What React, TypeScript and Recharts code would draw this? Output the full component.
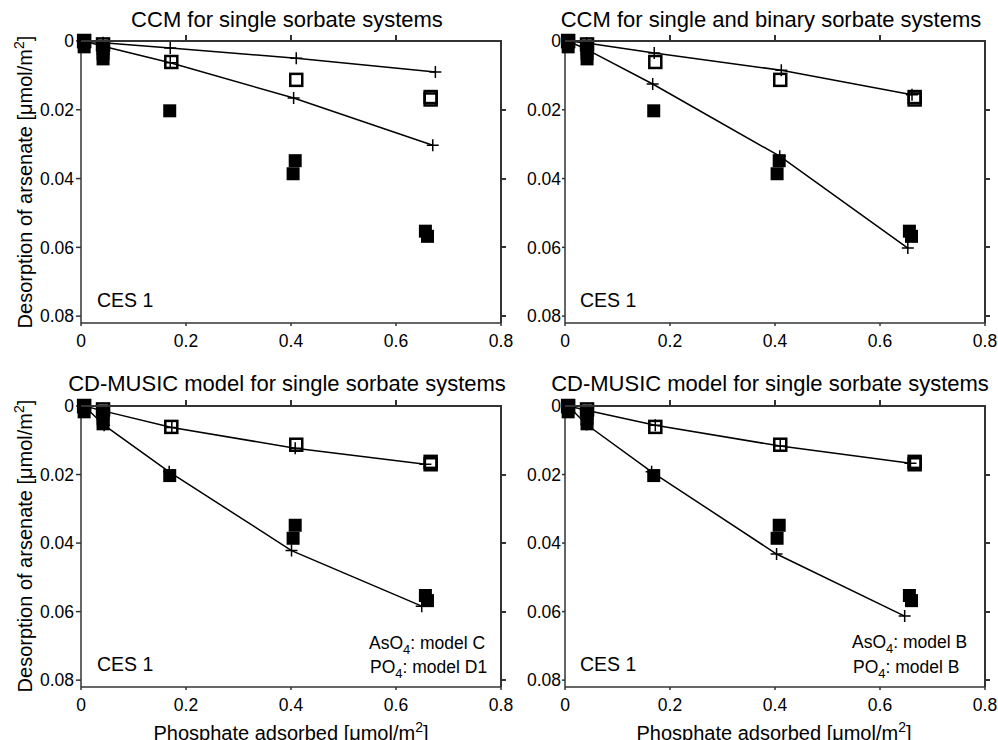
import { ComposedChart, Scatter, XAxis, YAxis } from "recharts";

// measured points (same in all four panels)
const openX = [0.006, 0.042, 0.172, 0.41, 0.666, 0.666];
const openY = [0.0, 0.001, 0.0061, 0.0113, 0.0163, 0.017];
const filledX = [0.006, 0.006, 0.042, 0.042, 0.042, 0.169, 0.408, 0.404, 0.656, 0.66];
const filledY = [0.0003, 0.0017, 0.0022, 0.0037, 0.0052, 0.0203, 0.0348, 0.0386, 0.0553, 0.0568];

// model curves: a = upper curve, b = lower curve
const ccmSingleAX = [0.006, 0.042, 0.17, 0.41, 0.675];
const ccmSingleAY = [0, 0.0005, 0.002, 0.005, 0.009];
const ccmSingleBX = [0.006, 0.042, 0.17, 0.405, 0.67];
const ccmSingleBY = [0, 0.0015, 0.0063, 0.0166, 0.0303];

const ccmBinaryAX = [0.006, 0.041, 0.17, 0.412, 0.661];
const ccmBinaryAY = [0, 0.0006, 0.0035, 0.0085, 0.0156];
const ccmBinaryBX = [0.006, 0.042, 0.167, 0.409, 0.653];
const ccmBinaryBY = [0, 0.0025, 0.0125, 0.0335, 0.0602];

const musicCAX = [0.006, 0.044, 0.173, 0.408, 0.656];
const musicCAY = [0, 0.0015, 0.0063, 0.0123, 0.017];
const musicCBX = [0.006, 0.044, 0.168, 0.401, 0.649];
const musicCBY = [0, 0.0056, 0.0192, 0.0422, 0.0584];

const musicBAX = [0.006, 0.043, 0.172, 0.41, 0.658];
const musicBAY = [0, 0.0013, 0.0056, 0.0117, 0.0167];
const musicBBX = [0.006, 0.041, 0.165, 0.403, 0.647];
const musicBBY = [0, 0.0054, 0.0192, 0.0432, 0.0613];

const xTicks = [0, 0.2, 0.4, 0.6, 0.8];
const yTicks = [0, 0.02, 0.04, 0.06, 0.08];
const X_MAX = 0.8;
const Y_MAX = 0.082;

const zip = (xs: number[], ys: number[]) => xs.map((x, i) => ({ x, y: ys[i] }));

const FONT = '"Liberation Sans", Arial, Helvetica, sans-serif';
const AXIS = "#333";
const M_TOP = 20;
const M_RIGHT = 26;
const PLOT_W = 420;

const OpenSquare = (p: any) => (
  <rect x={p.cx - 6} y={p.cy - 6} width={12} height={12} fill="none" stroke="#000" strokeWidth={2.5} />
);
const FilledSquare = (p: any) => (
  <rect x={p.cx - 6.5} y={p.cy - 6.5} width={13} height={13} fill="#000" />
);
const Plus = (p: any) => (
  <path
    d={`M${p.cx - 6},${p.cy}H${p.cx + 6}M${p.cx},${p.cy - 6}V${p.cy + 6}`}
    stroke="#000"
    strokeWidth={1.5}
  />
);

interface PanelProps {
  x0: number;
  y0: number;
  plotH: number;
  upper: { x: number; y: number }[];
  lower: { x: number; y: number }[];
  yTickSize: number;
  yTickMargin: number;
}

function Panel({ x0, y0, plotH, upper, lower, yTickSize, yTickMargin }: PanelProps) {
  return (
    <div style={{ position: "absolute", left: x0 - 60, top: y0 - M_TOP }}>
      <ComposedChart
        width={60 + PLOT_W + M_RIGHT}
        height={M_TOP + plotH + 30}
        margin={{ top: M_TOP, right: M_RIGHT, bottom: 0, left: 0 }}
        style={{ fontFamily: FONT }}
      >
        <XAxis
          dataKey="x"
          type="number"
          domain={[0, X_MAX]}
          ticks={xTicks}
          interval={0}
          height={30}
          tickSize={3}
          tickMargin={9}
          stroke={AXIS}
          strokeWidth={1.5}
          tick={{ fill: "#000", fontSize: 17.5 }}
        />
        <YAxis
          dataKey="y"
          type="number"
          reversed
          domain={[0, Y_MAX]}
          ticks={yTicks}
          interval={0}
          width={60}
          tickSize={yTickSize}
          tickMargin={yTickMargin}
          stroke={AXIS}
          strokeWidth={1.5}
          tick={{ fill: "#000", fontSize: 17.5 }}
        />
        <Scatter data={zip(filledX, filledY)} shape={FilledSquare} isAnimationActive={false} />
        <Scatter data={zip(openX, openY)} shape={OpenSquare} isAnimationActive={false} />
        <Scatter
          data={upper}
          shape={Plus}
          line={{ stroke: "#000", strokeWidth: 1.5 }}
          lineType="joint"
          isAnimationActive={false}
        />
        <Scatter
          data={lower}
          shape={Plus}
          line={{ stroke: "#000", strokeWidth: 1.5 }}
          lineType="joint"
          isAnimationActive={false}
        />
      </ComposedChart>
    </div>
  );
}

// top and right sides of the box, with their short ticks, as plain boxes
function Frame({ x0, y0, h }: { x0: number; y0: number; h: number }) {
  const x1 = x0 + PLOT_W;
  const topTicks = xTicks.slice(1, -1).map((t) => x0 + (t / X_MAX) * PLOT_W);
  const rightTicks = yTicks.slice(1).map((t) => y0 + (t / Y_MAX) * h);
  return (
    <>
      <div
        style={{
          position: "absolute",
          left: x0,
          top: y0 - 1,
          width: PLOT_W + 1,
          height: h + 1,
          borderTop: `2px solid ${AXIS}`,
          borderRight: `2px solid ${AXIS}`,
          boxSizing: "border-box",
          zIndex: 5,
        }}
      />
      {topTicks.map((x) => (
        <div
          key={x}
          style={{ position: "absolute", left: x - 1, top: y0 - 6, width: 2, height: 6, background: AXIS, zIndex: 5 }}
        />
      ))}
      {rightTicks.map((y) => (
        <div
          key={y}
          style={{ position: "absolute", left: x1, top: y - 1, width: 5, height: 2, background: AXIS, zIndex: 5 }}
        />
      ))}
    </>
  );
}

const Sup2 = () => (
  <>
    <tspan dy={-8} fontSize={14}>2</tspan>
    <tspan dy={8}>]</tspan>
  </>
);

function Labels() {
  const t = { fontFamily: FONT, fill: "#000" };
  return (
    <svg width={998} height={740} style={{ position: "absolute", left: 0, top: 0, pointerEvents: "none" }}>
      <text x={287} y={27} fontSize={22} textAnchor="middle" {...t}>CCM for single sorbate systems</text>
      <text x={771} y={27} fontSize={22} textAnchor="middle" {...t}>CCM for single and binary sorbate systems</text>
      <text x={287} y={391} fontSize={22} textAnchor="middle" {...t}>CD-MUSIC model for single sorbate systems</text>
      <text x={770} y={391} fontSize={22} textAnchor="middle" {...t}>CD-MUSIC model for single sorbate systems</text>

      <text transform="translate(32,182) rotate(-90)" fontSize={20} textAnchor="middle" {...t}>
        Desorption of arsenate [μmol/m<Sup2 />
      </text>
      <text transform="translate(32,546) rotate(-90)" fontSize={20} textAnchor="middle" {...t}>
        Desorption of arsenate [μmol/m<Sup2 />
      </text>
      <text x={291} y={740} fontSize={20} textAnchor="middle" {...t}>
        Phosphate adsorbed [μmol/m<Sup2 />
      </text>
      <text x={774} y={740} fontSize={20} textAnchor="middle" {...t}>
        Phosphate adsorbed [μmol/m<Sup2 />
      </text>

      <text x={97} y={307} fontSize={19.5} {...t}>CES 1</text>
      <text x={580} y={307} fontSize={19.5} {...t}>CES 1</text>
      <text x={97} y={671} fontSize={19.5} {...t}>CES 1</text>
      <text x={580} y={671} fontSize={19.5} {...t}>CES 1</text>

      <text x={369} y={649} fontSize={17.5} {...t}>
        AsO<tspan dy={5} fontSize={13}>4</tspan><tspan dy={-5}>: model C</tspan>
      </text>
      <text x={370} y={673} fontSize={17.5} {...t}>
        PO<tspan dy={5} fontSize={13}>4</tspan><tspan dy={-5}>: model D1</tspan>
      </text>
      <text x={852} y={648} fontSize={17.5} {...t}>
        AsO<tspan dy={5} fontSize={13}>4</tspan><tspan dy={-5}>: model B</tspan>
      </text>
      <text x={853} y={673} fontSize={17.5} {...t}>
        PO<tspan dy={5} fontSize={13}>4</tspan><tspan dy={-5}>: model B</tspan>
      </text>
    </svg>
  );
}

export default function App() {
  return (
    <div
      style={{
        position: "absolute",
        left: 0,
        top: 0,
        width: 998,
        height: 740,
        overflow: "hidden",
        background: "#fff",
        fontFamily: FONT,
      }}
    >
      <Panel x0={81} y0={41} plotH={282} upper={zip(ccmSingleAX, ccmSingleAY)} lower={zip(ccmSingleBX, ccmSingleBY)} yTickSize={5} yTickMargin={2} />
      <Panel x0={565} y0={41} plotH={282} upper={zip(ccmBinaryAX, ccmBinaryAY)} lower={zip(ccmBinaryBX, ccmBinaryBY)} yTickSize={3} yTickMargin={1} />
      <Panel x0={81} y0={406} plotH={281} upper={zip(musicCAX, musicCAY)} lower={zip(musicCBX, musicCBY)} yTickSize={5} yTickMargin={2} />
      <Panel x0={565} y0={406} plotH={281} upper={zip(musicBAX, musicBAY)} lower={zip(musicBBX, musicBBY)} yTickSize={3} yTickMargin={1} />
      <Labels />
      <Frame x0={81} y0={41} h={282} />
      <Frame x0={565} y0={41} h={282} />
      <Frame x0={81} y0={406} h={281} />
      <Frame x0={565} y0={406} h={281} />
    </div>
  );
}
